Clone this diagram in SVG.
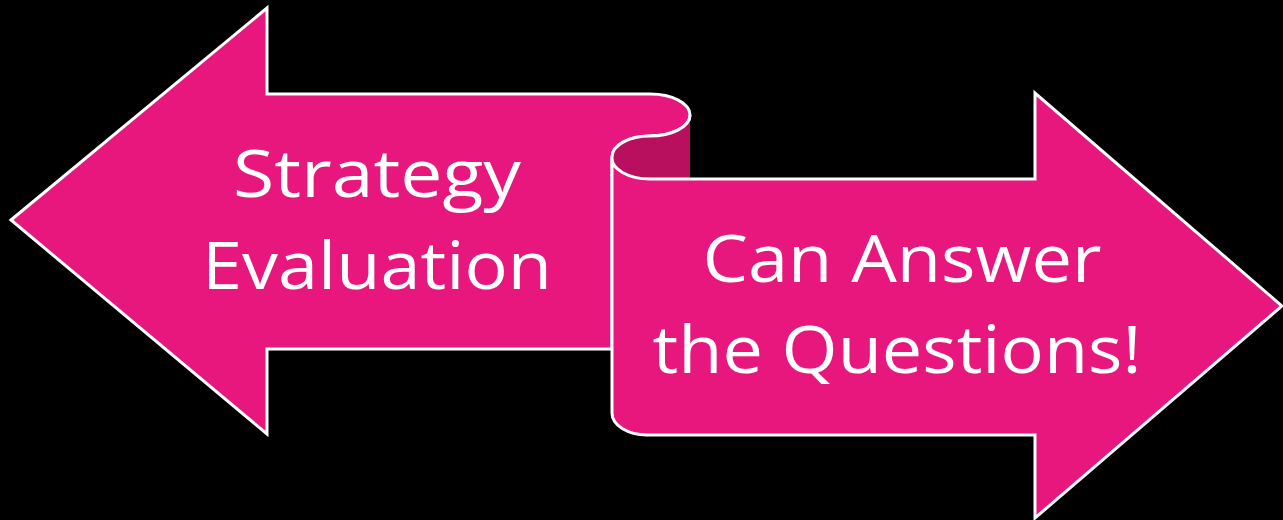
<svg xmlns="http://www.w3.org/2000/svg" width="1283" height="520" viewBox="0 0 1283 520">
<style>
.shape{fill:#E8177D;stroke:#FFFFFF;stroke-width:3;stroke-linejoin:miter}
.label{font-family:"Open Sans",Lato,sans-serif;font-size:66px;fill:#FFFFFF;text-anchor:middle;font-variant-ligatures:none}
</style>
<rect width="1283" height="520" fill="#000000"/>
<g id="left-arrow">
<path class="shape" d="M11,220 L267,8 L267,94 L650,94 A40,21 0 0 1 690,115 A40,21 0 0 1 650,136 A38,21 0 0 0 612,157 L612,349 L267,349 L267,434 Z"/>
<path d="M650,136 A40,21 0 0 0 690,115 L690,179 L650,179 A38,21 0 0 1 612,157 A38,21 0 0 1 650,136 Z" fill="#B8105E"/>
<path d="M690,115 A40,21 0 0 1 650,136 A38,21 0 0 0 612,157" fill="none" stroke="#FFFFFF" stroke-width="3"/>
<text class="label" x="377" y="197" textLength="288" lengthAdjust="spacingAndGlyphs">Strategy</text>
<text class="label" x="377" y="289" textLength="350" lengthAdjust="spacingAndGlyphs">Evaluation</text>
</g>
<g id="right-arrow">
<path class="shape" d="M612,157 A38,21 0 0 0 650,179 L1035,179 L1035,93 L1282,306 L1035,518 L1035,435 L647,435 A35,22 0 0 1 612,413 Z"/>
<text class="label" x="902" y="282" textLength="399" lengthAdjust="spacingAndGlyphs">Can Answer</text>
<text class="label" x="897" y="373" textLength="489" lengthAdjust="spacingAndGlyphs">the Questions!</text>
</g>
<g id="connectors"/>
</svg>
